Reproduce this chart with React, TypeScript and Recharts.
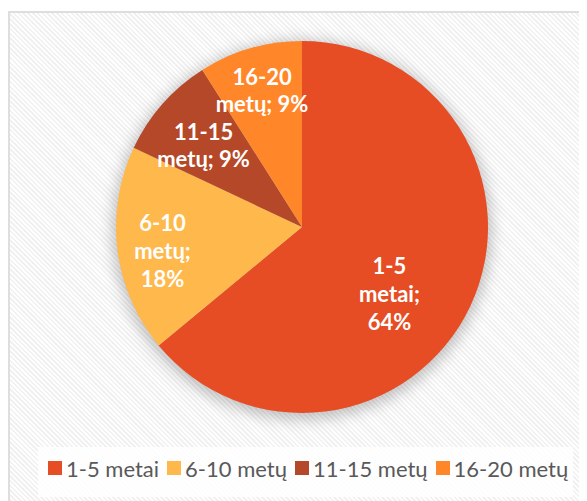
import React from "react";
import { PieChart, Pie, Cell, Legend } from "recharts";

const categories = ["1-5 metai", "6-10 metų", "11-15 metų", "16-20 metų"];
const shares = [64, 18, 9, 9];
const labelLines = [
  ["1-5", "metai;", "64%"],
  ["6-10", "metų;", "18%"],
  ["11-15", "metų; 9%"],
  ["16-20", "metų; 9%"],
];

const colors = ["#E64D24", "#FFB84B", "#B54828", "#FF8629"];
// radius fraction / angle tweak for each data label
const labelRadius = [0.59, 0.76, 0.69, 0.77];
const labelAngleShift = [-12, 2, 1.5, 0];

const data = categories.map((name, i) => ({ name, value: shares[i] }));
const shadowData = [{ name: "all", value: 100 }];

const RADIAN = Math.PI / 180;

const renderLabel = (props: any) => {
  const { cx, cy, midAngle, outerRadius, index } = props;
  const r = outerRadius * labelRadius[index];
  const a = (midAngle + labelAngleShift[index]) * RADIAN;
  const x = cx + r * Math.cos(-a);
  const y = cy + r * Math.sin(-a);
  const lines = labelLines[index];
  const lh = lines.length > 2 ? 28 : 27;
  const y0 = y - ((lines.length - 1) * lh) / 2;
  return (
    <text
      x={x}
      y={y0}
      fill="#fff"
      textAnchor="middle"
      dominantBaseline="central"
      fontFamily="Lato"
      fontWeight={700}
      fontSize={22}
    >
      {lines.map((l, i) => (
        <tspan key={i} x={x} y={y0 + i * lh}>
          {l}
        </tspan>
      ))}
    </text>
  );
};

const renderLegend = () => (
  <div
    style={{
      display: "flex",
      alignItems: "center",
      height: 50,
      paddingLeft: 10,
      paddingBottom: 8,
      boxSizing: "border-box",
      background: "rgba(255,255,255,0.85)",
      fontFamily: "Lato",
      fontSize: 22,
      color: "#595959",
      whiteSpace: "nowrap",
    }}
  >
    {categories.map((c, i) => (
      <span key={c} style={{ display: "flex", alignItems: "center", marginRight: 8 }}>
        <span
          style={{
            display: "inline-block",
            width: 14,
            height: 14,
            background: colors[i],
            marginRight: 4,
          }}
        />
        {c}
      </span>
    ))}
  </div>
);

export default function App() {
  return (
    <div
      style={{
        marginTop: 3,
        width: 600,
        height: 500,
        border: "2px solid #DEDEDE",
        background:
          "repeating-linear-gradient(45deg, #ffffff 0px, #ffffff 1.6px, #f1f1f1 1.6px, #f1f1f1 3.4px)",
      }}
    >
      <style>{"body{overflow:hidden}"}</style>
      <PieChart width={590} height={490} margin={{ top: 0, right: 0, bottom: 0, left: 0 }}>
        <defs>
          <filter id="pieShadow" x="-20%" y="-20%" width="140%" height="140%">
            <feGaussianBlur stdDeviation="7" />
          </filter>
        </defs>
        <Pie
          data={shadowData}
          dataKey="value"
          cx={292}
          cy={217}
          outerRadius={190}
          startAngle={90}
          endAngle={-270}
          stroke="none"
          fill="rgba(0,0,0,0.22)"
          style={{ filter: "url(#pieShadow)" }}
          isAnimationActive={false}
          legendType="none"
        />
        <Pie
          data={data}
          dataKey="value"
          nameKey="name"
          cx={292}
          cy={214}
          outerRadius={186}
          startAngle={90}
          endAngle={-270}
          stroke="none"
          label={renderLabel}
          labelLine={false}
          isAnimationActive={false}
        >
          {data.map((d, i) => (
            <Cell key={d.name} fill={colors[i]} />
          ))}
        </Pie>
        <Legend
          content={renderLegend}
          wrapperStyle={{ left: 28, top: 434, width: 535, height: 50, bottom: "auto", overflow: "visible" }}
        />
      </PieChart>
    </div>
  );
}
